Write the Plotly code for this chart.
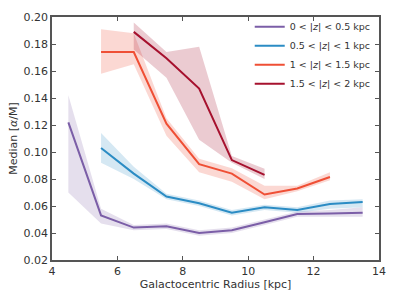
import plotly.graph_objects as go

names = ["0 < |<i>z</i>| < 0.5 kpc", "0.5 < |<i>z</i>| < 1 kpc",
         "1 < |<i>z</i>| < 1.5 kpc", "1.5 < |<i>z</i>| < 2 kpc"]
colors = ["#7B5EA7", "#2B8CC4", "#EF4F35", "#A6112E"]
fills = ["rgba(123,94,167,0.2)", "rgba(43,140,196,0.2)",
         "rgba(239,79,53,0.22)", "rgba(166,17,46,0.22)"]

x0 = [4.5, 5.5, 6.5, 7.5, 8.5, 9.5, 10.5, 11.5, 12.5, 13.5]
y0 = [0.122, 0.053, 0.044, 0.045, 0.040, 0.042, 0.048, 0.054, 0.0545, 0.055]
lo0 = [0.070, 0.047, 0.042, 0.043, 0.038, 0.040, 0.046, 0.052, 0.052, 0.052]
hi0 = [0.142, 0.058, 0.046, 0.047, 0.042, 0.044, 0.050, 0.056, 0.057, 0.059]

x1 = [5.5, 6.5, 7.5, 8.5, 9.5, 10.5, 11.5, 12.5, 13.5]
y1 = [0.103, 0.084, 0.067, 0.062, 0.055, 0.059, 0.057, 0.0615, 0.063]
lo1 = [0.092, 0.080, 0.065, 0.060, 0.053, 0.057, 0.055, 0.058, 0.059]
hi1 = [0.114, 0.089, 0.069, 0.064, 0.057, 0.061, 0.059, 0.064, 0.065]

x2 = [5.5, 6.5, 7.5, 8.5, 9.5, 10.5, 11.5, 12.5]
y2 = [0.174, 0.174, 0.121, 0.091, 0.084, 0.0685, 0.073, 0.0815]
lo2 = [0.158, 0.165, 0.112, 0.085, 0.078, 0.065, 0.071, 0.079]
hi2 = [0.191, 0.188, 0.125, 0.095, 0.088, 0.075, 0.075, 0.085]

x3 = [6.5, 7.5, 8.5, 9.5, 10.5]
y3 = [0.189, 0.1695, 0.147, 0.094, 0.083]
lo3 = [0.176, 0.155, 0.109, 0.092, 0.080]
hi3 = [0.196, 0.174, 0.178, 0.097, 0.0875]

series = [(x0, y0, lo0, hi0), (x1, y1, lo1, hi1), (x2, y2, lo2, hi2), (x3, y3, lo3, hi3)]

fig = go.Figure()
for i, (xs, ys, lo, hi) in enumerate(series):
    fig.add_trace(go.Scatter(x=xs, y=lo, mode="lines", line=dict(width=0),
                             showlegend=False, hoverinfo="skip"))
    fig.add_trace(go.Scatter(x=xs, y=hi, mode="lines", line=dict(width=0),
                             fill="tonexty", fillcolor=fills[i],
                             showlegend=False, hoverinfo="skip"))
for i, (xs, ys, lo, hi) in enumerate(series):
    fig.add_trace(go.Scatter(x=xs, y=ys, mode="lines", name=names[i],
                             line=dict(color=colors[i], width=2)))

axis_common = dict(showgrid=False, zeroline=False, showline=True, mirror="ticks",
                   linecolor="#555555", linewidth=1.5, ticks="inside", ticklen=4,
                   tickcolor="#555555", tickfont=dict(size=11, color="#333333"),
                   automargin=False)

fig.update_layout(
    width=399, height=299,
    margin=dict(l=52, r=20, t=15, b=39),
    paper_bgcolor="white", plot_bgcolor="white",
    font=dict(family="DejaVu Sans", color="#333333"),
    xaxis=dict(range=[4, 14], dtick=2, tick0=4,
               title=dict(text="Galactocentric Radius [kpc]", font=dict(size=11), standoff=2),
               **axis_common),
    yaxis=dict(range=[0.02, 0.20], dtick=0.02, tick0=0.02, tickformat=".2f",
               title=dict(text="Median [<i>α</i>/M]", font=dict(size=11), standoff=4),
               **axis_common),
    legend=dict(x=0.99, y=1.02, xanchor="right", yanchor="top", traceorder="normal",
                bgcolor="rgba(0,0,0,0)", font=dict(size=9.5, color="#333333"),
                itemwidth=30, tracegroupgap=0),
)

fig.write_html("out.html", config={"displayModeBar": False},
               post_script="document.body.style.margin='0';document.body.style.overflow='hidden';")
